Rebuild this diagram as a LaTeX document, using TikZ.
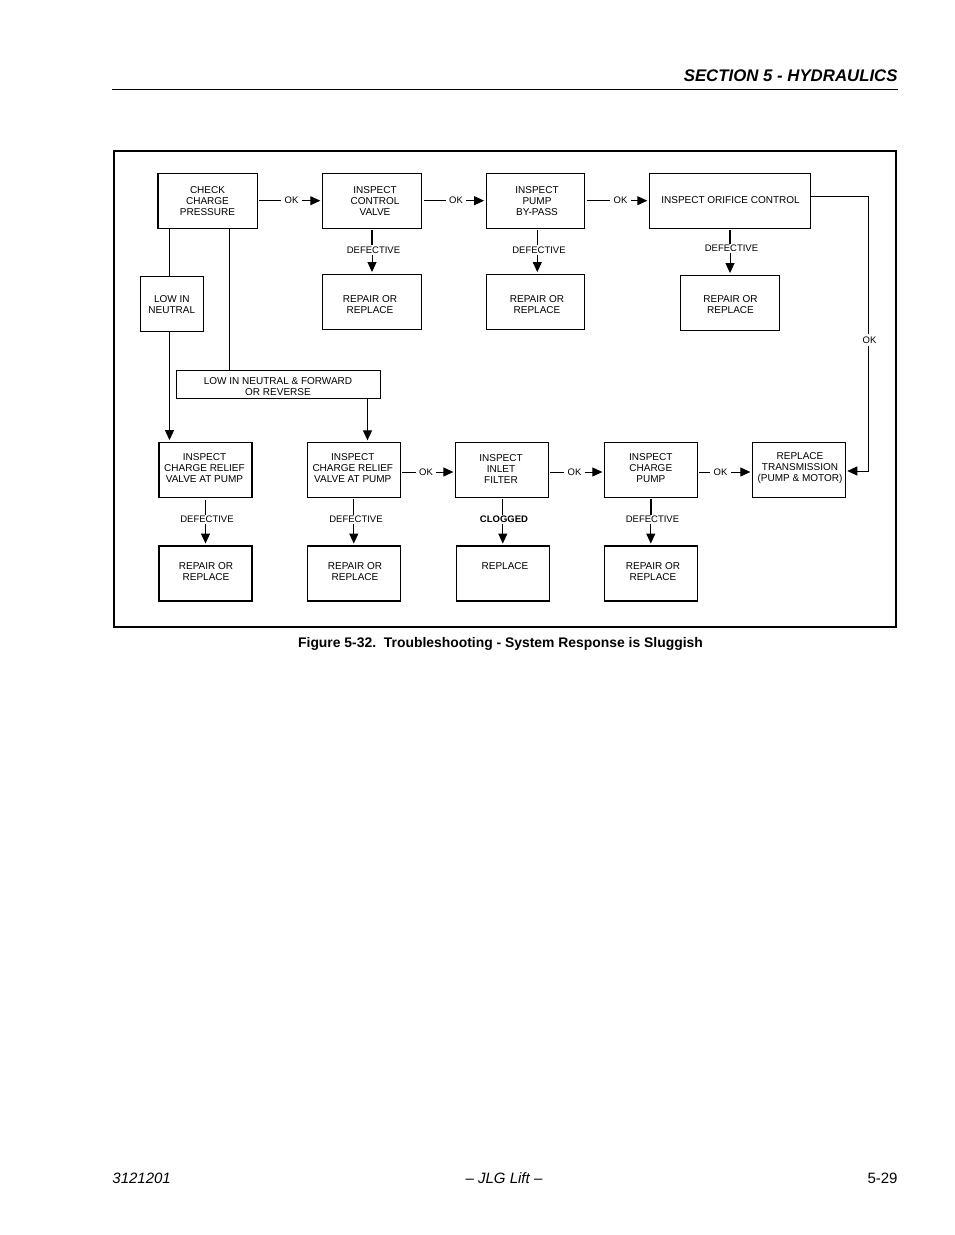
\documentclass[tikz,border=0pt]{standalone}
\usepackage{fontspec}
\setmainfont{Liberation Sans}
\usetikzlibrary{arrows.meta}
\begin{document}
\begin{tikzpicture}[x=1pt,y=-1pt,line width=0.9pt,
  box/.style={draw,inner sep=0pt,minimum width=93pt,minimum height=55pt},
  heavy/.style={line width=1.5pt},
  boxtext/.style={align=center,inner sep=0pt,font=\fontsize{10}{11}\selectfont},
  tag/.style={inner xsep=3pt,inner ysep=1pt,font=\fontsize{9.5}{10}\selectfont},
  pagetext/.style={inner sep=0pt,font=\fontsize{15}{17}\selectfont},
  link/.style={shorten <=1.5pt},
  flow/.style={-{Triangle[length=10pt,width=9pt]},shorten >=1.5pt}]

\useasboundingbox (0,0) rectangle (954,1235);

%page
\node[anchor=base east,inner sep=0pt,font=\fontsize{16.8}{20}\selectfont\bfseries\itshape] (title) at (898,81) {SECTION 5 - HYDRAULICS};
\coordinate (ruleL) at (112,89.5);
\coordinate (ruleR) at (898,89.5);
\draw [line width=0.8pt] (ruleL) -- (ruleR);
\node[draw,line width=2pt,inner sep=0pt,minimum width=782pt,minimum height=476.6pt] (frame) at (505,389) {};
\node[anchor=base,inner sep=0pt,font=\fontsize{13.9}{17}\selectfont\bfseries] (caption) at (500.5,647) {Figure 5-32.\ \ Troubleshooting - System Response is Sluggish};
\node[pagetext,anchor=base west,font=\fontsize{15}{17}\selectfont\itshape] (docno) at (112,1183) {3121201};
\node[pagetext,anchor=base,font=\fontsize{15}{17}\selectfont\itshape] (maker) at (504,1183) {-- JLG Lift --};
\node[pagetext,anchor=base east] (pageno) at (898,1183) {5-29};

%top row
\node[box,minimum width=99pt,label={[boxtext,xshift=-0.5pt]center:CHECK\\CHARGE\\PRESSURE}] (check) at (208,201) {};
\node[box,minimum width=99.5pt,label={[boxtext,xshift=3pt]center:INSPECT\\CONTROL\\VALVE}] (control) at (372,201) {};
\node[box,minimum width=98.5pt,label={[boxtext,xshift=1.7pt]center:INSPECT\\PUMP\\BY-PASS}] (pump) at (535.3,201) {};
\node[box,minimum width=161.5pt,label={[boxtext,xshift=0.5pt,yshift=0.5pt]center:INSPECT ORIFICE CONTROL}] (orifice) at (730,201) {};

\node[box,minimum width=99.5pt,label={[boxtext,xshift=-2pt,yshift=-3pt]center:REPAIR OR\\REPLACE}] (repairA) at (372,301.5) {};
\node[box,minimum width=98.5pt,label={[boxtext,xshift=1.7pt,yshift=-3pt]center:REPAIR OR\\REPLACE}] (repairB) at (535.3,301.5) {};
\node[box,minimum width=98.5pt,label={[boxtext,xshift=0.5pt,yshift=-2pt]center:REPAIR OR\\REPLACE}] (repairC) at (730,302.5) {};

\node[box,minimum width=63pt,label={[boxtext,yshift=-1pt]center:LOW IN\\NEUTRAL}] (low) at (171.8,303.8) {};
\node[box,minimum width=204.4pt,minimum height=28pt,label={[boxtext,xshift=-0.5pt,yshift=-2pt]center:LOW IN NEUTRAL \& FORWARD\\OR REVERSE}] (lownf) at (278.5,384.3) {};

%bottom rows
\node[box,heavy,label={[boxtext,xshift=-1pt,yshift=1.3pt]center:INSPECT\\CHARGE RELIEF\\VALVE AT PUMP}] (reliefA) at (205.5,469.8) {};
\node[box,label={[boxtext,xshift=-1pt,yshift=1.3pt]center:INSPECT\\CHARGE RELIEF\\VALVE AT PUMP}] (reliefB) at (353.8,469.8) {};
\node[box,label={[boxtext,xshift=-0.8pt,yshift=0.5pt]center:INSPECT\\INLET\\FILTER}] (inlet) at (501.8,469.8) {};
\node[box,label={[boxtext,yshift=2.2pt]center:INSPECT\\CHARGE\\PUMP}] (cpump) at (650.8,469.8) {};
\node[box,label={[boxtext,xshift=1.2pt,yshift=2.2pt]center:REPLACE\\TRANSMISSION\\(PUMP \& MOTOR)}] (trans) at (798.8,469.8) {};

\node[box,heavy,label={[boxtext,xshift=0.5pt,yshift=1.5pt]center:REPAIR OR\\REPLACE}] (repairD) at (205.5,573.3) {};
\node[box,heavy,label={[boxtext,xshift=1.2pt,yshift=1.5pt]center:REPAIR OR\\REPLACE}] (repairE) at (353.8,573.3) {};
\node[box,heavy,label={[boxtext,xshift=2pt,yshift=7pt]center:REPLACE}] (replaceF) at (503,573.3) {};
\node[box,heavy,label={[boxtext,xshift=2.2pt,yshift=1.5pt]center:REPAIR OR\\REPLACE}] (repairG) at (650.8,573.3) {};

%labels on the lines
\node[tag] (okA) at (291.5,200.7) {OK};
\node[tag] (okB) at (456,200.7) {OK};
\node[tag] (okC) at (620.5,200.7) {OK};
\node[tag] (okD) at (426,472) {OK};
\node[tag] (okE) at (574.5,472) {OK};
\node[tag] (okF) at (720.5,472) {OK};
\node[tag,inner xsep=1pt,inner ysep=2.5pt] (okG) at (869.5,340) {OK};

\node[tag] (defA) at (373.5,250) {DEFECTIVE};
\node[tag] (defB) at (539,250) {DEFECTIVE};
\node[tag] (defC) at (731.5,248.5) {DEFECTIVE};
\node[tag] (defD) at (207,519.5) {DEFECTIVE};
\node[tag] (defE) at (356,519.5) {DEFECTIVE};
\node[tag,font=\fontsize{9.5}{10}\selectfont\bfseries] (defF) at (504,519.5) {CLOGGED};
\node[tag] (defG) at (652.5,519.5) {DEFECTIVE};

%heavier left sides
\draw [line width=1.6pt] (check.north west) -- (check.south west);
\draw [line width=1.6pt] (repairC.north west) -- (repairC.south west);

%OK links
\draw [link] (check.east |- okA) -- (okA);
\draw [flow] (okA) -- (okA -| control.west);
\draw [link] (control.east |- okB) -- (okB);
\draw [flow] (okB) -- (okB -| pump.west);
\draw [link] (pump.east |- okC) -- (okC);
\draw [flow] (okC) -- (okC -| orifice.west);
\draw [link] (reliefB.east |- okD) -- (okD);
\draw [flow] (okD) -- (okD -| inlet.west);
\draw [link] (inlet.east |- okE) -- (okE);
\draw [flow] (okE) -- (okE -| cpump.west);
\draw [link] (cpump.east |- okF) -- (okF);
\draw [flow] (okF) -- (okF -| trans.west);

%long way round
\coordinate (turnA) at (868,196.7);
\coordinate (turnB) at (868,471);
\draw (orifice.east |- turnA) -- (turnA) -- (turnA |- okG.north);
\draw [flow] (turnB |- okG.south) -- (turnB) -- (turnB -| trans.east);

%DEFECTIVE links
\draw [link,line width=1.4pt] (control.south) -- (control.south |- defA.north);
\draw [flow] (repairA.north |- defA.south) -- (repairA.north);
\draw [link] ([xshift=2pt]pump.south) -- ([xshift=2pt]pump.south |- defB.north);
\draw [flow] ([xshift=2pt]pump.south |- defB.south) -- ([xshift=2pt]repairB.north);
\draw [link,line width=1.4pt] (orifice.south) -- (orifice.south |- defC.north);
\draw [flow] (orifice.south |- defC.south) -- (repairC.north);
\draw [link] (reliefA.south) -- (reliefA.south |- defD.north);
\draw [flow] (reliefA.south |- defD.south) -- (repairD.north);
\draw [link] (reliefB.south) -- (reliefB.south |- defE.north);
\draw [flow] (reliefB.south |- defE.south) -- (repairE.north);
\draw [link] ([xshift=1pt]inlet.south) -- ([xshift=1pt]inlet.south |- defF.north);
\draw [flow] ([xshift=1pt]inlet.south |- defF.south) -- ([xshift=1pt]inlet.south |- replaceF.north);
\draw [link,line width=1.4pt] (cpump.south) -- (cpump.south |- defG.north);
\draw [flow] (cpump.south |- defG.south) -- (repairG.north);

%left branches
\coordinate (lineA) at (169.5,300);
\coordinate (lineB) at (229.5,300);
\coordinate (lineC) at (367.5,420);
\draw (lineA |- check.south) -- (lineA |- low.north);
\draw [flow] (lineA |- low.south) -- (lineA |- reliefA.north);
\draw (lineB |- check.south) -- (lineB |- lownf.north);
\draw [flow] (lineC |- lownf.south) -- (lineC |- reliefB.north);
\end{tikzpicture}
\end{document}
